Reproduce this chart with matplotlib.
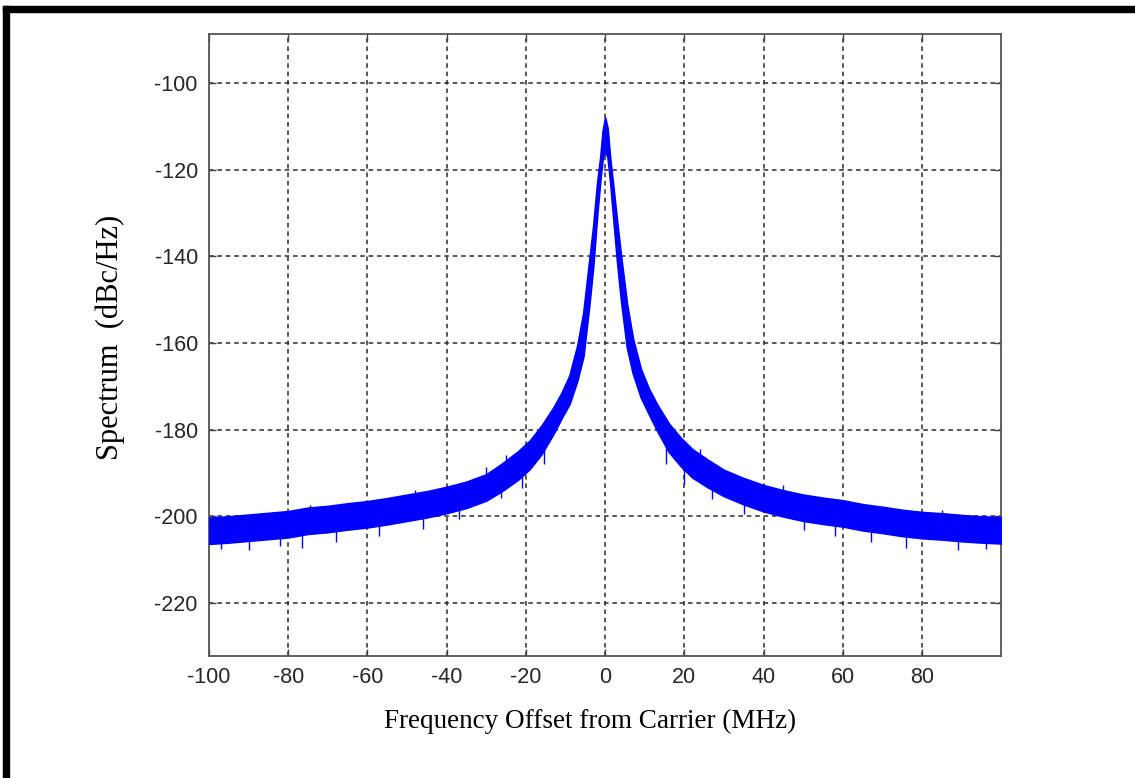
import matplotlib

matplotlib.use("Agg")

import matplotlib.pyplot as plt
import numpy as np
from matplotlib.patches import Rectangle

# envelope of the noisy spectrum trace (MHz, dBc/Hz)
freq = [-100, -95, -90, -85, -80, -75, -70, -65, -60, -55, -50, -45, -40, -35, -30,
        -26, -22, -19, -16, -13, -11, -9, -7, -5.5, -4, -3, -2, -1.2, -0.6, 0,
        0.6, 1.2, 2, 3, 4, 5.5, 7, 9, 11, 13, 16, 19, 22, 26, 30,
        35, 40, 45, 50, 55, 60, 65, 70, 75, 80, 85, 90, 95, 99.9]
spec_hi = [-200.3, -200.0, -199.6, -199.2, -198.8, -198.0, -197.6, -197.0, -196.5, -195.8,
           -195.0, -194.2, -193.2, -192.0, -190.3, -187.8, -185.0, -182.5, -179.0, -174.8,
           -171.5, -167.5, -160.5, -153.0, -141.0, -133.0, -123.0, -117.0, -111.0, -108.0,
           -110.5, -117.0, -123.5, -132.0, -140.0, -151.0, -159.0, -166.0, -170.5, -174.0,
           -178.5, -181.8, -184.5, -187.0, -189.3, -191.2, -192.8, -194.0, -195.0, -195.7,
           -196.3, -197.2, -197.8, -198.5, -199.0, -199.3, -199.7, -200.0, -200.2]
spec_lo = [-206.3, -206.0, -205.6, -205.2, -204.8, -204.0, -203.6, -203.0, -202.5, -201.8,
           -201.0, -200.2, -199.2, -198.0, -196.3, -194.1, -191.5, -189.0, -185.5, -180.8,
           -177.3, -174.0, -168.5, -163.0, -151.0, -142.0, -130.0, -122.0, -117.0, -116.0,
           -117.0, -122.0, -130.5, -141.0, -150.0, -161.0, -167.0, -172.5, -176.3, -180.0,
           -185.0, -188.3, -191.0, -193.3, -195.3, -197.2, -198.8, -200.0, -201.0, -201.7,
           -202.3, -203.2, -203.8, -204.5, -205.0, -205.3, -205.7, -206.0, -206.2]

# visible noise spikes sticking out of the band
spike_x = [-97, -90, -82, -76.5, -74.5, -68, -57, -48, -46, -37, -30, -26.3, -25, -21, -15.4,
           15.4, 20, 24, 27, 35, 45, 50.3, 58, 67, 76, 85, 89, 96]
spike_lo = [-207.5, -207.8, -206.8, -207.3, -198.5, -205.8, -204.5, -195.5, -202.8, -200.5,
            -191.0, -195.8, -188.0, -193.5, -188.0, -188.0, -192.5, -186.5, -196.0, -199.5,
            -194.5, -203.2, -204.5, -206.0, -207.3, -199.8, -207.8, -207.5]
spike_hi = [-205.0, -205.0, -204.0, -203.5, -197.4, -203.0, -201.0, -193.8, -199.5, -197.0,
            -188.5, -193.0, -185.9, -190.0, -184.0, -184.0, -189.0, -184.5, -193.0, -196.0,
            -192.7, -200.0, -201.5, -203.0, -204.0, -198.4, -205.0, -205.5]

x_ticks = [-100, -80, -60, -40, -20, 0, 20, 40, 60, 80]
y_ticks = [-220, -200, -180, -160, -140, -120, -100]

BLUE = "#0000ff"
GRID = "#2b2b2b"
SERIF = ["Liberation Serif", "DejaVu Serif"]

plt.rcParams.update({
    "font.family": ["Liberation Sans", "DejaVu Sans"],
    "axes.unicode_minus": False,
    "xtick.direction": "in",
    "ytick.direction": "in",
})

fig = plt.figure(figsize=(11.35, 7.78), dpi=100)
ax = fig.add_axes([0.1841, 0.1568, 0.6978, 0.7995])

ax.fill_between(freq, spec_lo, spec_hi, color=BLUE, linewidth=1.4, edgecolor=BLUE, zorder=3)
ax.vlines(spike_x, spike_lo, spike_hi, color=BLUE, linewidth=1.0, zorder=3)

ax.set_xlim(-100, 99.9)
ax.set_ylim(-232.2, -88.7)
ax.set_xticks(x_ticks)
ax.set_yticks(y_ticks)
ax.tick_params(axis="both", which="both", top=True, right=True, length=5, width=1.0,
               color="#444444", labelsize=15.5, labelcolor="#262626")
ax.tick_params(axis="x", pad=8)
ax.tick_params(axis="y", pad=8)

ax.grid(True, color=GRID, linestyle=(0, (3.0, 2.5)), linewidth=1.1, zorder=1)
ax.set_axisbelow(True)
for sp in ax.spines.values():
    sp.set_color("#555555")
    sp.set_linewidth(1.3)

ax.set_xlabel("Frequency Offset from Carrier (MHz)", family=SERIF, fontsize=19.5, color="black")
ax.set_ylabel("Spectrum  (dBc/Hz)", family=SERIF, fontsize=22, color="black")
ax.xaxis.set_label_coords(0.481, -0.1045)
ax.xaxis.label.set_va("center")
ax.yaxis.set_label_coords(-0.125, 0.513)
ax.yaxis.label.set_va("center")

# black frame strips at top and left of the image
fig.patches.append(Rectangle((3 / 1135, 1 - 12 / 778), 1 - 3 / 1135, 6 / 778,
                             transform=fig.transFigure, color="black", zorder=10))
fig.patches.append(Rectangle((3 / 1135, 0), 5.5 / 1135, 1 - 6 / 778,
                             transform=fig.transFigure, color="black", zorder=10))

fig.savefig("out.png", dpi=100)
